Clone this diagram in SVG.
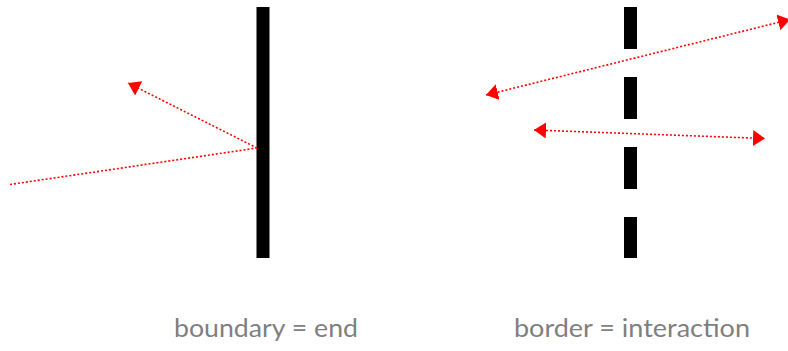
<svg xmlns="http://www.w3.org/2000/svg" width="788" height="351" viewBox="0 0 788 351">
<style>
.ray{stroke:#ff0000;stroke-width:1.6;stroke-dasharray:2 2;fill:none}
.wall{fill:#000000}
.lbl{font-family:Lato,"Open Sans","Liberation Sans",sans-serif;font-size:25px;fill:#7f7f7f}
</style>
<defs>
<marker id="ah" markerUnits="userSpaceOnUse" markerWidth="14" markerHeight="18" refX="12" refY="8" orient="auto-start-reverse" viewBox="0 0 14 18">
<path d="M0,0 L12,8 L0,16 z" fill="#ff0000"/>
</marker>
</defs>
<g id="boundary">
<rect class="wall" x="256.5" y="7" width="13" height="251"/>
</g>
<g id="border">
<rect class="wall" x="624" y="7" width="13" height="42"/>
<rect class="wall" x="624" y="77" width="13" height="42"/>
<rect class="wall" x="624" y="147" width="13" height="42"/>
<rect class="wall" x="624" y="217" width="13" height="41"/>
</g>
<g id="connectors">
<line class="ray" x1="10" y1="184.5" x2="257" y2="148"/>
<line class="ray" x1="257" y1="148" x2="128" y2="83" marker-end="url(#ah)"/>
<line class="ray" x1="486" y1="95" x2="790" y2="19.5" marker-start="url(#ah)" marker-end="url(#ah)"/>
<line class="ray" x1="534" y1="130" x2="765" y2="138.5" marker-start="url(#ah)" marker-end="url(#ah)"/>
</g>
<g id="labels">
<text class="lbl" x="174" y="337" textLength="184" lengthAdjust="spacingAndGlyphs">boundary = end</text>
<text class="lbl" x="514" y="337" textLength="236" lengthAdjust="spacingAndGlyphs">border = interaction</text>
</g>
</svg>
